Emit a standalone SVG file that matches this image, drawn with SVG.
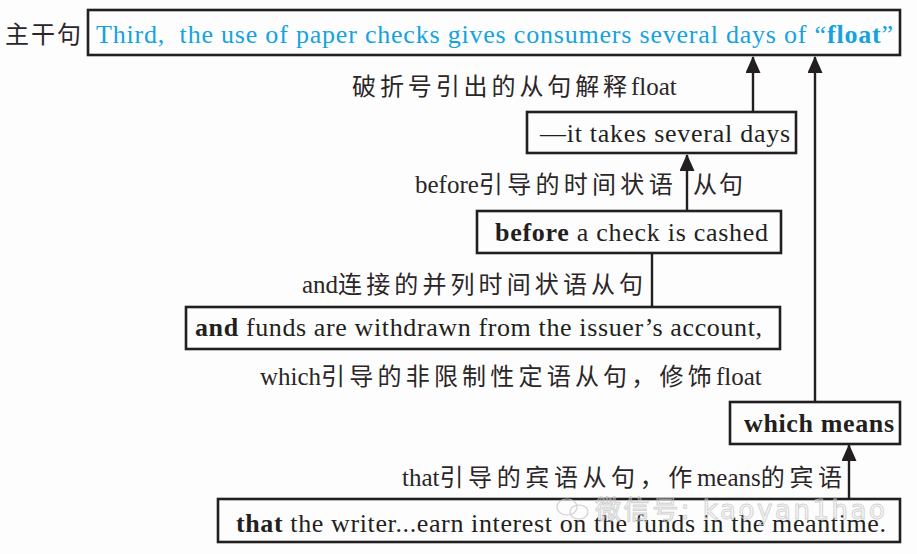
<svg xmlns="http://www.w3.org/2000/svg" width="917" height="554" viewBox="0 0 917 554">
<style>
.bg{fill:#fdfdfd}
.box{fill:none;stroke:#231f20;stroke-width:2.6}
.t{font-family:"Liberation Serif","Noto Sans CJK SC",serif;font-size:26px;fill:#231f20}
.c{font-family:"Liberation Serif","Noto Sans CJK SC",serif;font-size:25px;fill:#2a2627}
.k{font-family:"Noto Sans CJK SC",sans-serif;font-size:24px}
.blue{fill:#14a3df}
.b{font-weight:bold}
.ln{stroke:#231f20;stroke-width:2.4;fill:none}
.wm{font-family:"DejaVu Sans","Noto Sans CJK SC",sans-serif;font-size:26px;fill:none;stroke:#c8c8c8;stroke-width:1}
</style>
<defs>
<marker id="ah" markerUnits="userSpaceOnUse" markerWidth="17" markerHeight="15" refX="16" refY="7.5" orient="auto">
<path d="M0,0 L17,7.5 L0,15 z" fill="#231f20"/>
</marker>
</defs>
<rect class="bg" x="0" y="0" width="917" height="554"/>

<g id="main">
<text class="c" x="5" y="43"><tspan class="k" font-size="25" letter-spacing="2">主干句</tspan></text>
<rect class="box" x="88" y="10" width="812" height="45" stroke-width="3"/>
<text class="t blue" x="96" y="43" textLength="797">Third,&#160; the use of paper checks gives consumers several days of “<tspan class="b">float</tspan>”</text>
</g>

<g id="label-dash">
<text class="c" x="352" y="95"><tspan class="k" letter-spacing="3.9">破折号引出的从句解释</tspan>float</text>
</g>

<g id="it-takes">
<rect class="box" x="527" y="112" width="269" height="41"/>
<text class="t" x="540" y="142" textLength="250">—it takes several days</text>
</g>

<g id="label-before">
<text class="c" x="415" y="193">before<tspan class="k" letter-spacing="4.3">引导的时间状语</tspan> <tspan class="k" x="693" letter-spacing="2">从句</tspan></text>
</g>

<g id="before">
<rect class="box" x="477" y="211" width="304" height="42"/>
<text class="t" x="495" y="241" textLength="273"><tspan class="b">before</tspan> a check is cashed</text>
</g>

<g id="label-and">
<text class="c" x="302" y="293">and<tspan class="k" letter-spacing="4.1">连接的并列时间状语从句</tspan></text>
</g>

<g id="and">
<rect class="box" x="186" y="307" width="594" height="42"/>
<text class="t" x="195" y="336" textLength="567"><tspan class="b">and</tspan> funds are withdrawn from the issuer’s account,</text>
</g>

<g id="label-which">
<text class="c" x="260" y="385">which<tspan class="k" letter-spacing="4.2">引导的非限制性定语从句，修饰</tspan>float</text>
</g>

<g id="which-means">
<rect class="box" x="730" y="402" width="170" height="42"/>
<text class="t b" x="744" y="432" textLength="150">which means</text>
</g>

<g id="label-that">
<text class="c" x="402" y="486">that<tspan class="k" letter-spacing="4.6">引导的宾语从句，作</tspan>means<tspan class="k" letter-spacing="4.6">的宾语</tspan></text>
</g>

<g id="that">
<rect class="box" x="218" y="499" width="682" height="43"/>
<text class="t" x="236" y="532" textLength="650"><tspan class="b">that</tspan> the writer...earn interest on the funds in the meantime.</text>
</g>

<g id="connectors">
<line class="ln" x1="753" y1="112" x2="753" y2="57" marker-end="url(#ah)"/>
<line class="ln" x1="815" y1="402" x2="815" y2="57" marker-end="url(#ah)"/>
<line class="ln" x1="687" y1="211" x2="687" y2="155" marker-end="url(#ah)"/>
<line class="ln" x1="652" y1="253" x2="652" y2="307"/>
<line class="ln" x1="849" y1="499" x2="849" y2="445" marker-end="url(#ah)"/>
</g>

<g id="watermark" opacity="0.8">
<ellipse cx="567" cy="507" rx="10" ry="8" fill="none" stroke="#c8c8c8" stroke-width="1.2"/>
<ellipse cx="579" cy="512" rx="9" ry="7" fill="none" stroke="#c8c8c8" stroke-width="1.2"/>
<text class="wm" x="595" y="519" textLength="290">微信号: kaoyan1hao</text>
</g>
</svg>
